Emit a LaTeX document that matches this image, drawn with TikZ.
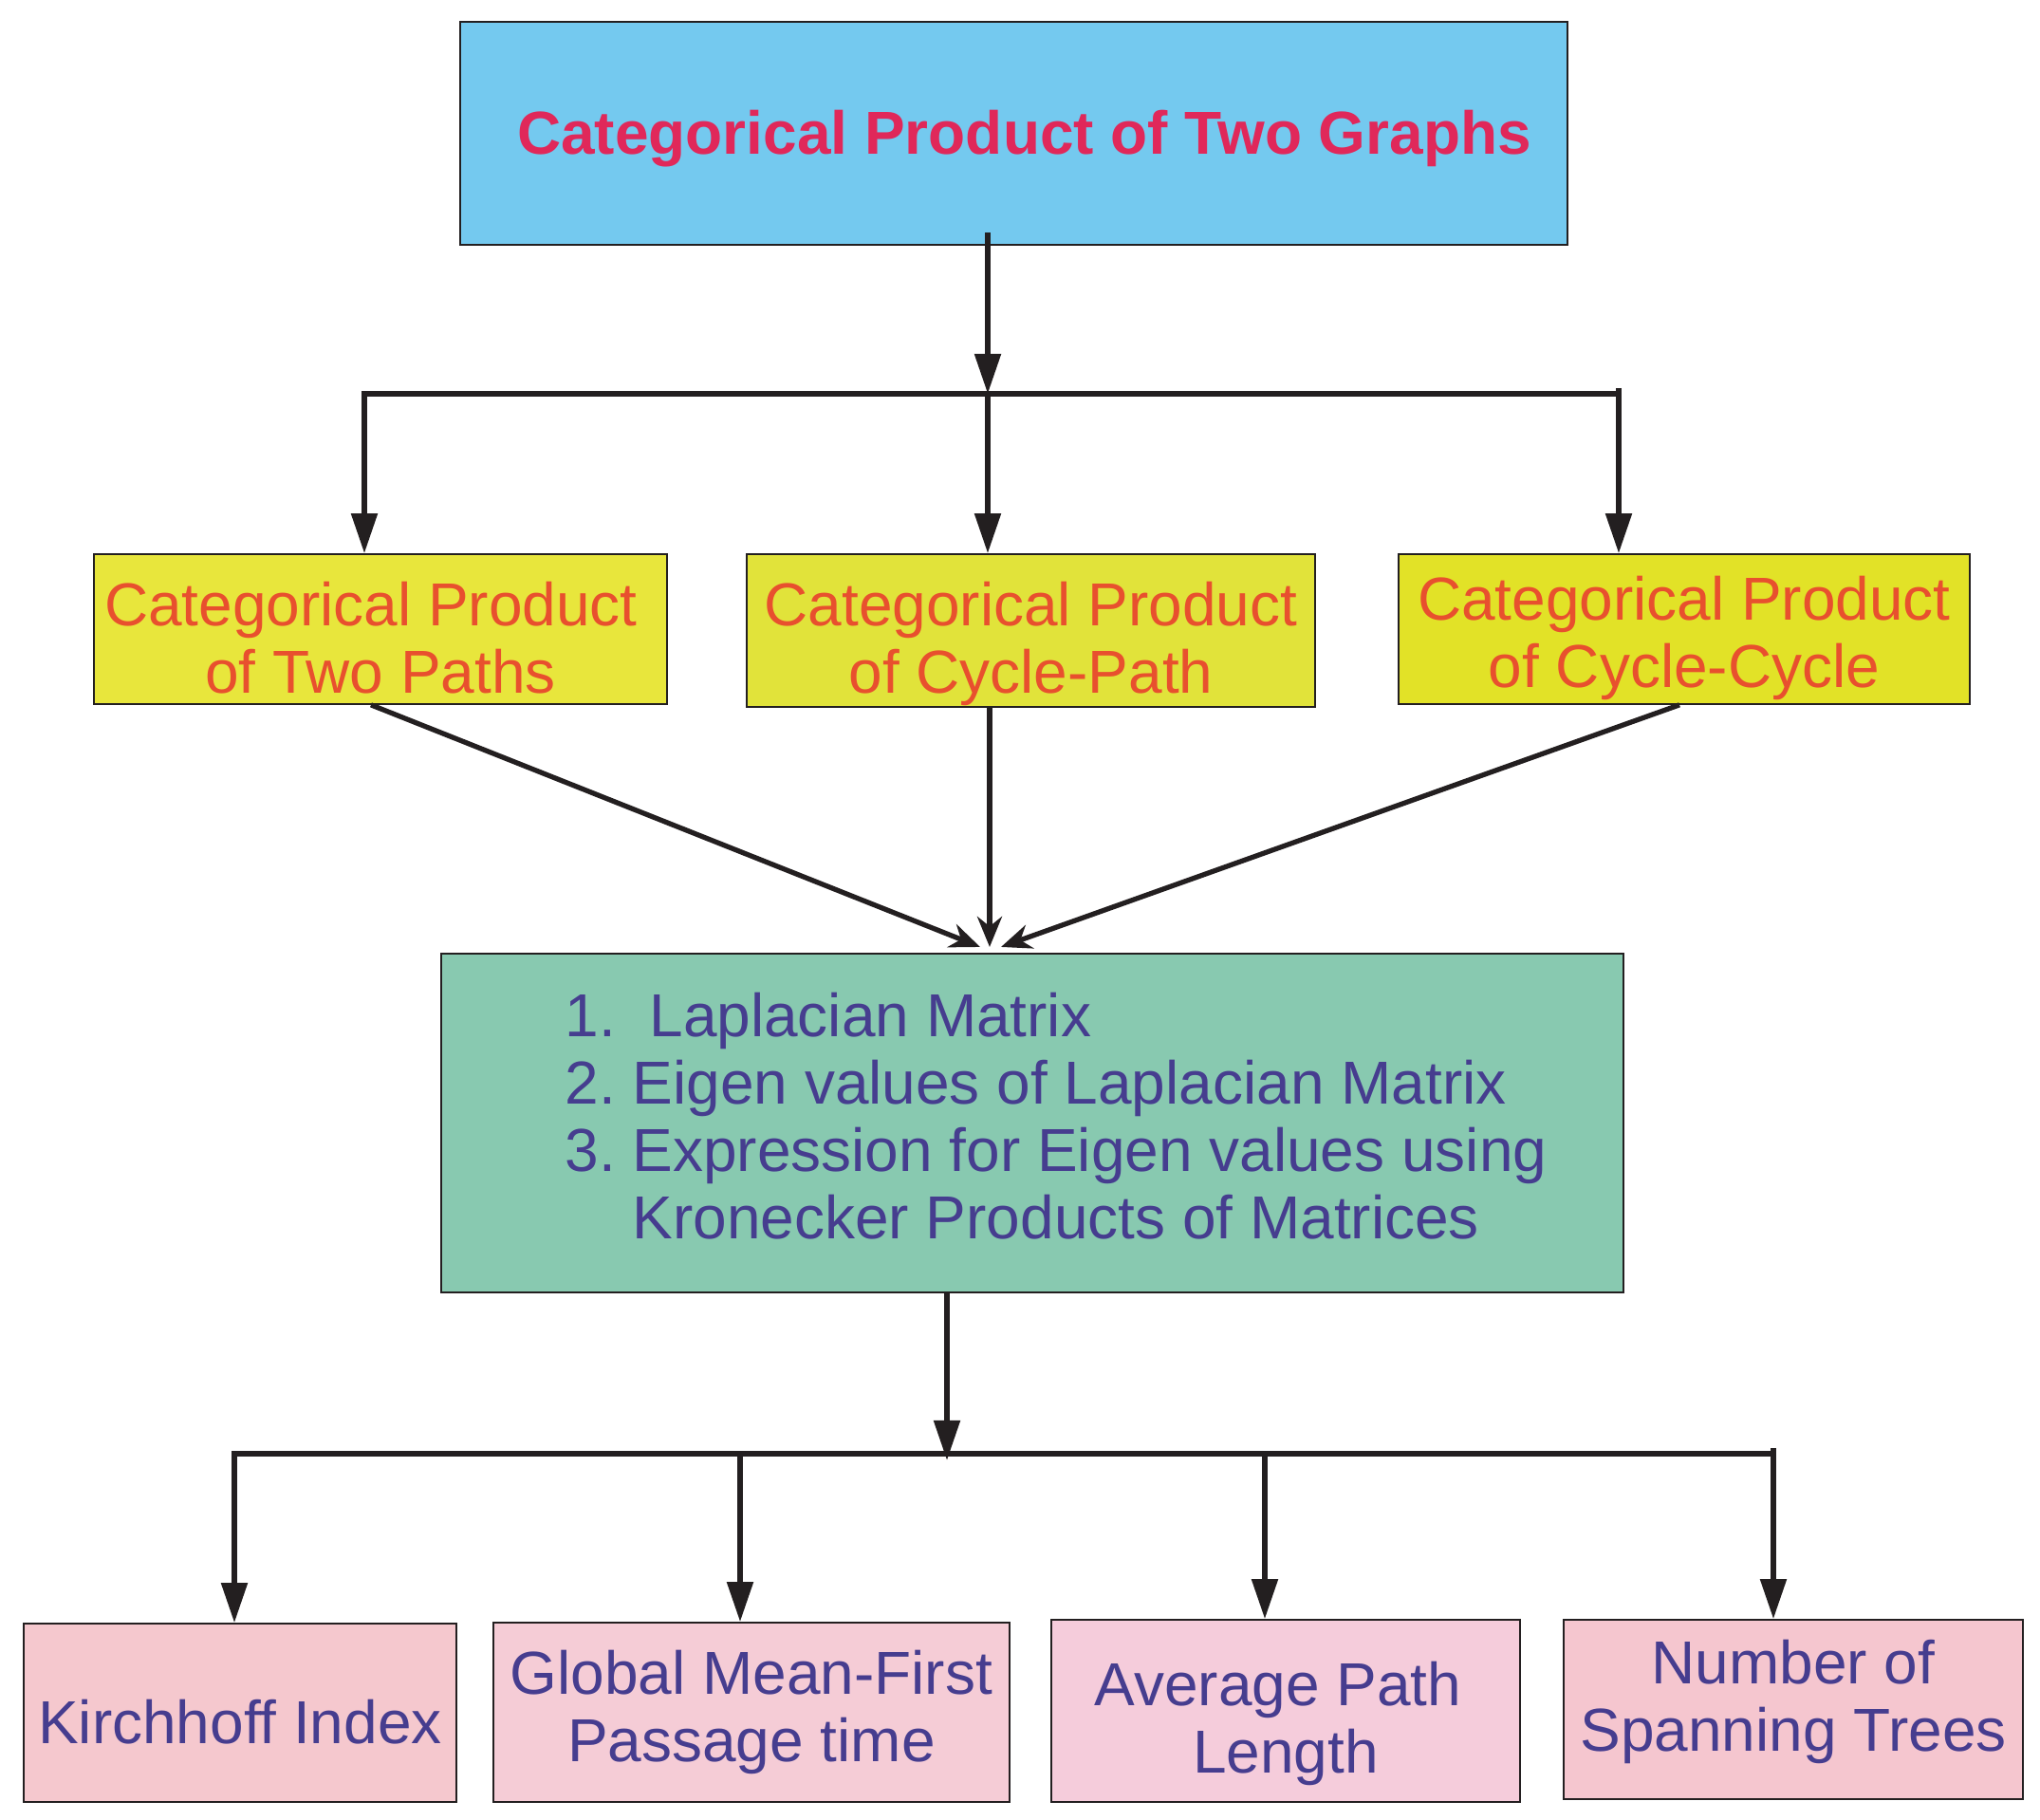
\documentclass[tikz,border=0pt]{standalone}
\usepackage{fontspec}
\setmainfont{Liberation Sans}
\usetikzlibrary{arrows.meta,calc}

\definecolor{skyfill}{HTML}{74C9EF}
\definecolor{titlered}{HTML}{E0285A}
\definecolor{yellowa}{HTML}{E8E63C}
\definecolor{yellowb}{HTML}{E1E33A}
\definecolor{yellowc}{HTML}{E2E227}
\definecolor{orangetext}{HTML}{E8502E}
\definecolor{greenfill}{HTML}{88C9B0}
\definecolor{bluetext}{HTML}{463D8F}
\definecolor{pinka}{HTML}{F5C8CE}
\definecolor{pinkb}{HTML}{F5CCD6}
\definecolor{pinkc}{HTML}{F5CCDB}
\definecolor{pinkd}{HTML}{F5C6CF}
\definecolor{linegray}{HTML}{231F20}

\newcommand\diagfont{\fontsize{18.2}{20.2}\selectfont\frenchspacing}
% extra room above the first line / below the last line, to sit the text lower / higher in its box
\newcommand\pushdown[2]{\raisebox{0pt}[\dimexpr\height+#1\relax]{#2}}
\newcommand\pushup[2]{\raisebox{0pt}[\height][\dimexpr\depth+#1\relax]{#2}}

\begin{document}
\begin{tikzpicture}[
  box/.style={draw=linegray,line width=0.5pt,rectangle,inner sep=0pt,align=center,font=\diagfont},
  pathbox/.style={box,text=orangetext,minimum width=6.02cm,minimum height=1.58cm},
  resultbox/.style={box,text=bluetext,minimum height=1.89cm},
  conn/.style={draw=linegray,line width=1.5pt},
  arr/.style={conn,-{Triangle[width=0.27cm,length=0.42cm]}},
  meet/.style={conn,-{Stealth[width=0.26cm,length=0.32cm]}}
]
\useasboundingbox (0,0) rectangle (21.5,19.18);

\node[box,fill=skyfill,text=titlered,font=\diagfont\bfseries,minimum width=11.67cm,minimum height=2.35cm] (title) at (10.685,17.775)
  {\pushdown{0.11cm}{\hspace*{0.22cm}Categorical Product of Two Graphs}};

\node[pathbox,fill=yellowa,minimum width=6.04cm] (paths) at (4.01,12.55)
  {\pushdown{0.19cm}{Categorical Product\hspace*{0.2cm}}\\of Two Paths};
\node[pathbox,fill=yellowb,minimum width=5.99cm,minimum height=1.61cm] (cyclepath) at (10.865,12.535)
  {\pushdown{0.27cm}{Categorical Product}\\of Cycle-Path};
\node[pathbox,fill=yellowc] (cyclecycle) at (17.75,12.55)
  {\pushdown{0.18cm}{Categorical Product}\\of Cycle-Cycle};

\node[box,fill=greenfill,text=bluetext,align=left,minimum width=12.46cm,minimum height=3.57cm] (lap) at (10.88,7.345)
  {\hspace*{0.5cm}1.~~Laplacian Matrix\\
   \hspace*{0.5cm}2. Eigen values of Laplacian Matrix\\
   \hspace*{0.5cm}3. Expression for Eigen values using\\
   \pushup{0.14cm}{\hspace*{0.5cm}\phantom{3.~}Kronecker Products of Matrices}};

\node[resultbox,fill=pinka,minimum width=4.56cm,minimum height=1.88cm] (kirch) at (2.53,1.13)
  {\pushdown{0.19cm}{Kirchhoff Index}};
\node[resultbox,fill=pinkb,minimum width=5.44cm] (gmfpt) at (7.92,1.135) {Global Mean-First\\Passage time};
\node[resultbox,fill=pinkc,minimum width=4.94cm,minimum height=1.92cm] (apl) at (13.55,1.15)
  {\pushdown{0.27cm}{Average Path\hspace*{0.16cm}}\\Length};
\node[resultbox,fill=pinkd,minimum width=4.84cm] (nst) at (18.90,1.165)
  {Number of\\\pushup{0.16cm}{Spanning Trees}};

\coordinate (split) at (10.41,15.03);
\coordinate (splitl) at (3.84,15.03);
\coordinate (splitr) at (17.06,15.03);
\draw[conn,line cap=rect] (splitl) -- (splitr);
\draw[arr] ($(title.south -| split)+(0,0.14)$) -- (split);
\draw[arr] (splitl) -- (splitl |- paths.north);
\draw[arr] (split) -- (split |- cyclepath.north);
\draw[arr] ($(splitr)+(0,0.06)$) -- (splitr |- cyclecycle.north);

\coordinate (meetpt) at (10.43,9.20);
\draw[meet] ([xshift=-0.1cm]paths.south) -- ([xshift=-0.1cm]meetpt);
\draw[meet] (meetpt |- cyclepath.south) -- (meetpt);
\draw[meet] ([xshift=-0.05cm]cyclecycle.south) -- ([xshift=0.12cm]meetpt);

\coordinate (fan) at (9.98,3.86);
\coordinate (fanl) at (2.47,3.86);
\coordinate (fanb) at (7.80,3.86);
\coordinate (fanc) at (13.33,3.86);
\coordinate (fanr) at (18.69,3.86);
\draw[conn,line cap=rect] (fanl) -- (fanr);
\draw[arr] (lap.south -| fan) -- ([yshift=-0.07cm]fan);
\draw[arr] (fanl) -- (fanl |- kirch.north);
\draw[arr] (fanb) -- (fanb |- gmfpt.north);
\draw[arr] (fanc) -- (fanc |- apl.north);
\draw[arr] ($(fanr)+(0,0.06)$) -- (fanr |- nst.north);
\end{tikzpicture}
\end{document}
